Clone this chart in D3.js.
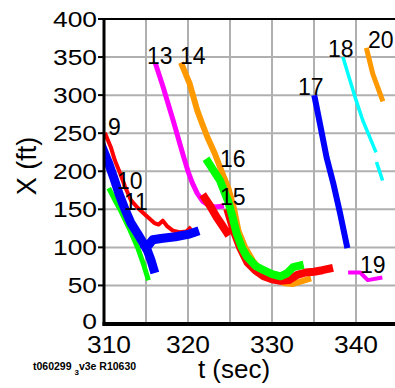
<!DOCTYPE html>
<html><head><meta charset="utf-8">
<script src="https://cdn.jsdelivr.net/npm/d3@7/dist/d3.min.js"></script>
<style>body{margin:0;background:#fff}svg{display:block}text{font-family:"Liberation Sans",Arial,sans-serif}</style>
</head><body><svg id="c" width="395" height="388"></svg>
<script>
// ---- data (t in sec, X in ft) ----
const xTicks = [310, 320, 330, 340];
const yTicks = [0, 50, 100, 150, 200, 250, 300, 350, 400];
const s9  = [[310.2,248],[310.8,232],[311.3,214],[312.0,195],[312.5,180],[313.2,162],[314.0,152],[315.0,142],[316.0,132],[316.5,130],[317.0,135],[317.5,128],[318.2,122],[319.0,120],[319.8,121],[320.2,125]];
const s10 = [[309.8,231],[310.5,212],[311.2,190],[311.8,170],[312.5,150],[313.2,132],[314.0,118],[314.7,105],[315.2,95],[315.6,83],[315.9,72],null,[315.0,100],[315.3,103],[315.8,110],[317.0,112],[318.5,114],[320.0,117],[320.8,120]];
const s11 = [[310.7,175],[311.3,162],[312.0,148],[313.0,125],[314.0,100],[314.7,78],[315.2,60]];
const s13 = [[316.2,339],[317.0,312],[317.6,290],[318.2,268],[318.8,245],[319.4,222],[320.0,200],[320.5,185],[321.1,171],[321.8,160],[322.5,155],[323.2,153],[324.0,154]];
const s14 = [[319.3,339],[320.2,315],[321.1,280],[321.7,262],[322.3,245],[323.2,223],[324.0,200],[324.8,178],[325.5,150],[326.0,122],[326.8,100],[327.7,83],[328.5,72],[329.5,63],[330.5,57],[331.5,53],[332.5,52],[333.4,55],[334.3,58]];
const s15 = [[322.0,165],[322.6,155],[323.4,140],[324.0,130],[324.6,120],null,[324.8,146],[325.5,120],[326.2,100],[327.1,80],[328.0,70],[329.0,62],[330.0,58],[331.0,56],[332.0,57],[333.0,64],[334.0,67],[335.0,68],[336.0,70],[336.8,72]];
const s16 = [[322.4,212],[323.8,188],[324.8,160],[325.3,140],[325.8,118],[326.4,100],[327.0,88],[328.0,76],[329.0,70],[330.0,65],[331.0,62],[331.8,66],[332.5,74],[333.3,76]];
const s17 = [[335.1,296],[335.7,263],[336.5,218],[337.3,184],[338.1,145],[338.9,103]];
const s18 = [[338.5,348],[339.9,297],[340.8,267],[342.3,227],null,[342.5,210],[343.1,190]];
const s19 = [[339.3,67],[340.5,67],[341.4,57],[342.9,60]];
const s20 = [[341.3,359],[342.0,328],[343.1,295]];
const seriesNames = ["9","11","10","13","14","15","16","17","18","19","20"];
const seriesData  = [s9, s11, s10, s13, s14, s15, s16, s17, s18, s19, s20];

// ---- styles ----
const style = {
  "9":{c:"#ff0000",w:4}, "10":{c:"#0000ff",w:9}, "11":{c:"#00ff00",w:5},
  "13":{c:"#ff00ff",w:5}, "14":{c:"#ff9900",w:6}, "15":{c:"#ff0000",w:8},
  "16":{c:"#00ff00",w:8}, "17":{c:"#0000ff",w:6}, "18":{c:"#00ffff",w:3.5},
  "19":{c:"#ff00ff",w:4}, "20":{c:"#ff9900",w:5}
};
const labelPos = {"9":[108,135],"10":[117,189],"11":[124,210],"13":[147,64],"14":[180,64],"15":[220,205],"16":[220,167],"17":[298,95],"18":[328,57],"19":[360,273],"20":[368,48]};

const svg = d3.select("#c");
const x = d3.scaleLinear().domain([310,345]).range([104,398]);
const y = d3.scaleLinear().domain([0,400]).range([323.5,19]);

// grid
const g = svg.append("g");
g.selectAll("line.v").data(d3.range(315,346,5)).join("line")
  .attr("x1",d=>x(d)).attr("x2",d=>x(d)).attr("y1",y(400)).attr("y2",y(0))
  .attr("stroke","#b0b0b0").attr("stroke-width",2);
g.selectAll("line.h").data(yTicks.slice(1,-1)).join("line")
  .attr("x1",x(310)).attr("x2",395).attr("y1",d=>y(d)).attr("y2",d=>y(d))
  .attr("stroke","#b0b0b0").attr("stroke-width",2);

// series
const line = d3.line().defined(d=>d!==null).x(d=>x(d[0])).y(d=>y(d[1])).curve(d3.curveLinear);
svg.append("clipPath").attr("id","pa").append("rect")
  .attr("x",x(310)).attr("y",y(400)).attr("width",398-104).attr("height",y(0)-y(400));
const sg = svg.append("g").attr("clip-path","url(#pa)");
seriesNames.forEach((n,i)=>{
  const st = style[n];
  sg.append("path").attr("d",line(seriesData[i])).attr("fill","none")
    .attr("stroke",st.c).attr("stroke-width",st.w).attr("stroke-linejoin","round").attr("stroke-linecap","square");
});

// frame
svg.append("line").attr("x1",x(310)).attr("x2",395).attr("y1",y(400)).attr("y2",y(400)).attr("stroke","#000").attr("stroke-width",2);
svg.append("line").attr("x1",x(310)).attr("x2",x(310)).attr("y1",y(400)-1).attr("y2",y(0)+2).attr("stroke","#000").attr("stroke-width",3);
svg.append("line").attr("x1",x(310)-1.5).attr("x2",395).attr("y1",y(0)+0.5).attr("y2",y(0)+0.5).attr("stroke","#000").attr("stroke-width",4);

// y ticks
svg.selectAll("line.yt").data(yTicks.slice(1)).join("line")
  .attr("x1",x(310)-6).attr("x2",x(310)).attr("y1",d=>y(d)).attr("y2",d=>y(d)).attr("stroke","#000").attr("stroke-width",2);
svg.selectAll("text.yl").data(yTicks).join("text")
  .attr("transform",d=>`translate(97,${y(d)+(d===0?5:8)}) scale(1.2,1)`)
  .attr("text-anchor","end").attr("font-size",22).text(d=>d);
// x tick labels
svg.selectAll("text.xl").data(xTicks).join("text")
  .attr("transform",d=>`translate(${x(d)+(d===310?5:0)},353) scale(1.1,1)`)
  .attr("text-anchor","middle").attr("font-size",24).text(d=>d);

// series labels
Object.entries(labelPos).forEach(([n,p])=>{
  svg.append("text").attr("x",p[0]).attr("y",p[1]).attr("font-size",23).text(n);
});

// axis titles
svg.append("text").attr("x",234).attr("y",378).attr("text-anchor","middle").attr("font-size",26).text("t (sec)");
svg.append("text").attr("transform","translate(36,166) rotate(-90)").attr("text-anchor","middle").attr("font-size",27).text("X (ft)");

// footer
const ft = svg.append("text").attr("x",33).attr("y",370).attr("font-size",10.5).attr("font-weight","bold");
ft.append("tspan").text("t060299 ");
ft.append("tspan").attr("font-size",8).attr("dy",5).text("3");
ft.append("tspan").attr("dy",-5).text("v3e  R10630");
</script></body></html>
